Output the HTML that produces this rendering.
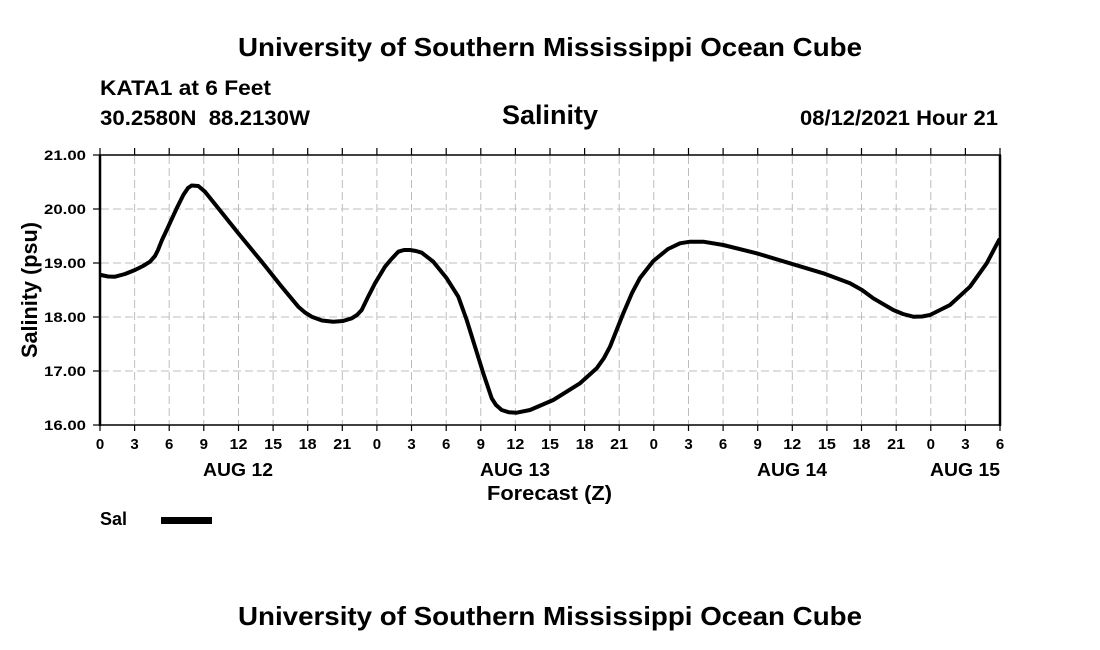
<!DOCTYPE html>
<html>
<head>
<meta charset="utf-8">
<style>
html,body{margin:0;padding:0;background:#fff;}
svg{display:block;}
text{font-family:"Liberation Sans",Arial,sans-serif;font-weight:bold;fill:#000;}
.pre{white-space:pre;}
</style>
</head>
<body>
<svg width="1100" height="650" viewBox="0 0 1100 650" xmlns="http://www.w3.org/2000/svg">
<rect x="0" y="0" width="1100" height="650" fill="#fff"/>

<!-- Titles -->
<text x="238" y="56" font-size="26" textLength="624" lengthAdjust="spacingAndGlyphs">University of Southern Mississippi Ocean Cube</text>
<text x="100" y="95" font-size="21" textLength="171" lengthAdjust="spacingAndGlyphs">KATA1 at 6 Feet</text>
<text class="pre" xml:space="preserve" x="100" y="125" font-size="21" textLength="210" lengthAdjust="spacingAndGlyphs">30.2580N  88.2130W</text>
<text x="502" y="124" font-size="27" textLength="96" lengthAdjust="spacingAndGlyphs">Salinity</text>
<text x="800" y="125" font-size="21" textLength="198" lengthAdjust="spacingAndGlyphs">08/12/2021 Hour 21</text>

<!-- Grid -->
<g stroke="#bdbdbd" stroke-width="1" stroke-dasharray="8,4" fill="none">
<line x1="101" y1="209" x2="999" y2="209"/>
<line x1="101" y1="263" x2="999" y2="263"/>
<line x1="101" y1="317" x2="999" y2="317"/>
<line x1="101" y1="371" x2="999" y2="371"/>
<line x1="134.6" y1="156" x2="134.6" y2="424"/>
<line x1="169.2" y1="156" x2="169.2" y2="424"/>
<line x1="203.8" y1="156" x2="203.8" y2="424"/>
<line x1="238.5" y1="156" x2="238.5" y2="424"/>
<line x1="273.1" y1="156" x2="273.1" y2="424"/>
<line x1="307.7" y1="156" x2="307.7" y2="424"/>
<line x1="342.3" y1="156" x2="342.3" y2="424"/>
<line x1="376.9" y1="156" x2="376.9" y2="424"/>
<line x1="411.5" y1="156" x2="411.5" y2="424"/>
<line x1="446.2" y1="156" x2="446.2" y2="424"/>
<line x1="480.8" y1="156" x2="480.8" y2="424"/>
<line x1="515.4" y1="156" x2="515.4" y2="424"/>
<line x1="550.0" y1="156" x2="550.0" y2="424"/>
<line x1="584.6" y1="156" x2="584.6" y2="424"/>
<line x1="619.2" y1="156" x2="619.2" y2="424"/>
<line x1="653.8" y1="156" x2="653.8" y2="424"/>
<line x1="688.5" y1="156" x2="688.5" y2="424"/>
<line x1="723.1" y1="156" x2="723.1" y2="424"/>
<line x1="757.7" y1="156" x2="757.7" y2="424"/>
<line x1="792.3" y1="156" x2="792.3" y2="424"/>
<line x1="826.9" y1="156" x2="826.9" y2="424"/>
<line x1="861.5" y1="156" x2="861.5" y2="424"/>
<line x1="896.2" y1="156" x2="896.2" y2="424"/>
<line x1="930.8" y1="156" x2="930.8" y2="424"/>
<line x1="965.4" y1="156" x2="965.4" y2="424"/>
</g>

<!-- Axes frame -->
<g stroke="#000" fill="none">
<line x1="99" y1="155" x2="1001" y2="155" stroke-width="1.5"/>
<line x1="99" y1="425" x2="1001" y2="425" stroke-width="1.5"/>
<line x1="100" y1="155" x2="100" y2="426" stroke-width="2.5"/>
<line x1="1000" y1="155" x2="1000" y2="426" stroke-width="2.5"/>
</g>

<!-- Ticks -->
<g stroke="#000" stroke-width="1.2">
<line x1="93" y1="155" x2="100" y2="155"/>
<line x1="93" y1="209" x2="100" y2="209"/>
<line x1="93" y1="263" x2="100" y2="263"/>
<line x1="93" y1="317" x2="100" y2="317"/>
<line x1="93" y1="371" x2="100" y2="371"/>
<line x1="93" y1="425" x2="100" y2="425"/>
</g>
<g stroke="#000" stroke-width="1.2">
<path d="M100 148V155M134.6 148V155M169.2 148V155M203.8 148V155M238.5 148V155M273.1 148V155M307.7 148V155M342.3 148V155M376.9 148V155M411.5 148V155M446.2 148V155M480.8 148V155M515.4 148V155M550 148V155M584.6 148V155M619.2 148V155M653.8 148V155M688.5 148V155M723.1 148V155M757.7 148V155M792.3 148V155M826.9 148V155M861.5 148V155M896.2 148V155M930.8 148V155M965.4 148V155M1000 148V155"/>
<path d="M100 425V431M134.6 425V431M169.2 425V431M203.8 425V431M238.5 425V431M273.1 425V431M307.7 425V431M342.3 425V431M376.9 425V431M411.5 425V431M446.2 425V431M480.8 425V431M515.4 425V431M550 425V431M584.6 425V431M619.2 425V431M653.8 425V431M688.5 425V431M723.1 425V431M757.7 425V431M792.3 425V431M826.9 425V431M861.5 425V431M896.2 425V431M930.8 425V431M965.4 425V431M1000 425V431"/>
</g>

<!-- Y tick labels -->
<g font-size="14" text-anchor="end">
<text x="86" y="160" textLength="42" lengthAdjust="spacingAndGlyphs">21.00</text>
<text x="86" y="214" textLength="42" lengthAdjust="spacingAndGlyphs">20.00</text>
<text x="86" y="268" textLength="42" lengthAdjust="spacingAndGlyphs">19.00</text>
<text x="86" y="322" textLength="42" lengthAdjust="spacingAndGlyphs">18.00</text>
<text x="86" y="376" textLength="42" lengthAdjust="spacingAndGlyphs">17.00</text>
<text x="86" y="430" textLength="42" lengthAdjust="spacingAndGlyphs">16.00</text>
</g>

<!-- Y axis title -->
<text transform="translate(37,290) rotate(-90)" x="0" y="0" font-size="22" text-anchor="middle" textLength="136" lengthAdjust="spacingAndGlyphs">Salinity (psu)</text>

<!-- X tick labels -->
<g font-size="15" text-anchor="middle">
<text x="100" y="449">0</text>
<text x="134.6" y="449">3</text>
<text x="169.2" y="449">6</text>
<text x="203.8" y="449">9</text>
<text x="238.5" y="449" textLength="18" lengthAdjust="spacingAndGlyphs">12</text>
<text x="273.1" y="449" textLength="18" lengthAdjust="spacingAndGlyphs">15</text>
<text x="307.7" y="449" textLength="18" lengthAdjust="spacingAndGlyphs">18</text>
<text x="342.3" y="449" textLength="18" lengthAdjust="spacingAndGlyphs">21</text>
<text x="376.9" y="449">0</text>
<text x="411.5" y="449">3</text>
<text x="446.2" y="449">6</text>
<text x="480.8" y="449">9</text>
<text x="515.4" y="449" textLength="18" lengthAdjust="spacingAndGlyphs">12</text>
<text x="550" y="449" textLength="18" lengthAdjust="spacingAndGlyphs">15</text>
<text x="584.6" y="449" textLength="18" lengthAdjust="spacingAndGlyphs">18</text>
<text x="619.2" y="449" textLength="18" lengthAdjust="spacingAndGlyphs">21</text>
<text x="653.8" y="449">0</text>
<text x="688.5" y="449">3</text>
<text x="723.1" y="449">6</text>
<text x="757.7" y="449">9</text>
<text x="792.3" y="449" textLength="18" lengthAdjust="spacingAndGlyphs">12</text>
<text x="826.9" y="449" textLength="18" lengthAdjust="spacingAndGlyphs">15</text>
<text x="861.5" y="449" textLength="18" lengthAdjust="spacingAndGlyphs">18</text>
<text x="896.2" y="449" textLength="18" lengthAdjust="spacingAndGlyphs">21</text>
<text x="930.8" y="449">0</text>
<text x="965.4" y="449">3</text>
<text x="1000" y="449">6</text>
</g>

<!-- Date labels -->
<g font-size="18">
<text x="203" y="476" textLength="70" lengthAdjust="spacingAndGlyphs">AUG 12</text>
<text x="480" y="476" textLength="70" lengthAdjust="spacingAndGlyphs">AUG 13</text>
<text x="757" y="476" textLength="70" lengthAdjust="spacingAndGlyphs">AUG 14</text>
<text x="930" y="476" textLength="70" lengthAdjust="spacingAndGlyphs">AUG 15</text>
</g>

<text x="487" y="500" font-size="20" textLength="125" lengthAdjust="spacingAndGlyphs">Forecast (Z)</text>

<!-- Legend -->
<text x="100" y="525" font-size="18" textLength="27" lengthAdjust="spacingAndGlyphs">Sal</text>
<rect x="161" y="517" width="51" height="7" fill="#000"/>

<!-- Data series -->
<polyline fill="none" stroke="#000" stroke-width="4" stroke-linejoin="round" stroke-linecap="round"
points="101,275 108,276.5 115,276.7 125,274 135,270 143,266 150,261.7 155,256 158,250 162,240 166.7,230 176.7,208.3 183.3,195 188,188 191.7,185.5 198.3,186 205,191.7 218.3,208.3 238.3,233.3 261.7,261.7 281.7,286.7 298.3,306.7 305,312.5 311.7,316.7 322,320.5 333.3,321.7 343,321 351.7,318.3 357,315 361.7,310 368,297 375,283.3 385,266.7 391,259.5 398.3,251.7 404,250 410,250 416,251 421.7,252.7 433.3,261.7 446.7,278.3 458.3,296.7 466.7,320 475,346.7 483.3,373.3 491.7,398.3 496,405 501.7,410 509,412.3 516.7,412.7 530,410 553.3,400 580,383.3 596.7,368.3 604,358 610,346.7 623.3,313.3 632,293 640,278 653.3,261 668,249 680,243.3 690,241.7 703.3,241.7 723.3,245 756.7,253.3 790,263.3 823.3,273.3 850,283.3 862,290 873.3,298.3 893.3,310 903,314 913.3,316.7 922,316.5 930,315 950,305 970,286.7 986.7,263.3 999,240"/>

<!-- Bottom title -->
<text x="238" y="625" font-size="26" textLength="624" lengthAdjust="spacingAndGlyphs">University of Southern Mississippi Ocean Cube</text>
</svg>
</body>
</html>
